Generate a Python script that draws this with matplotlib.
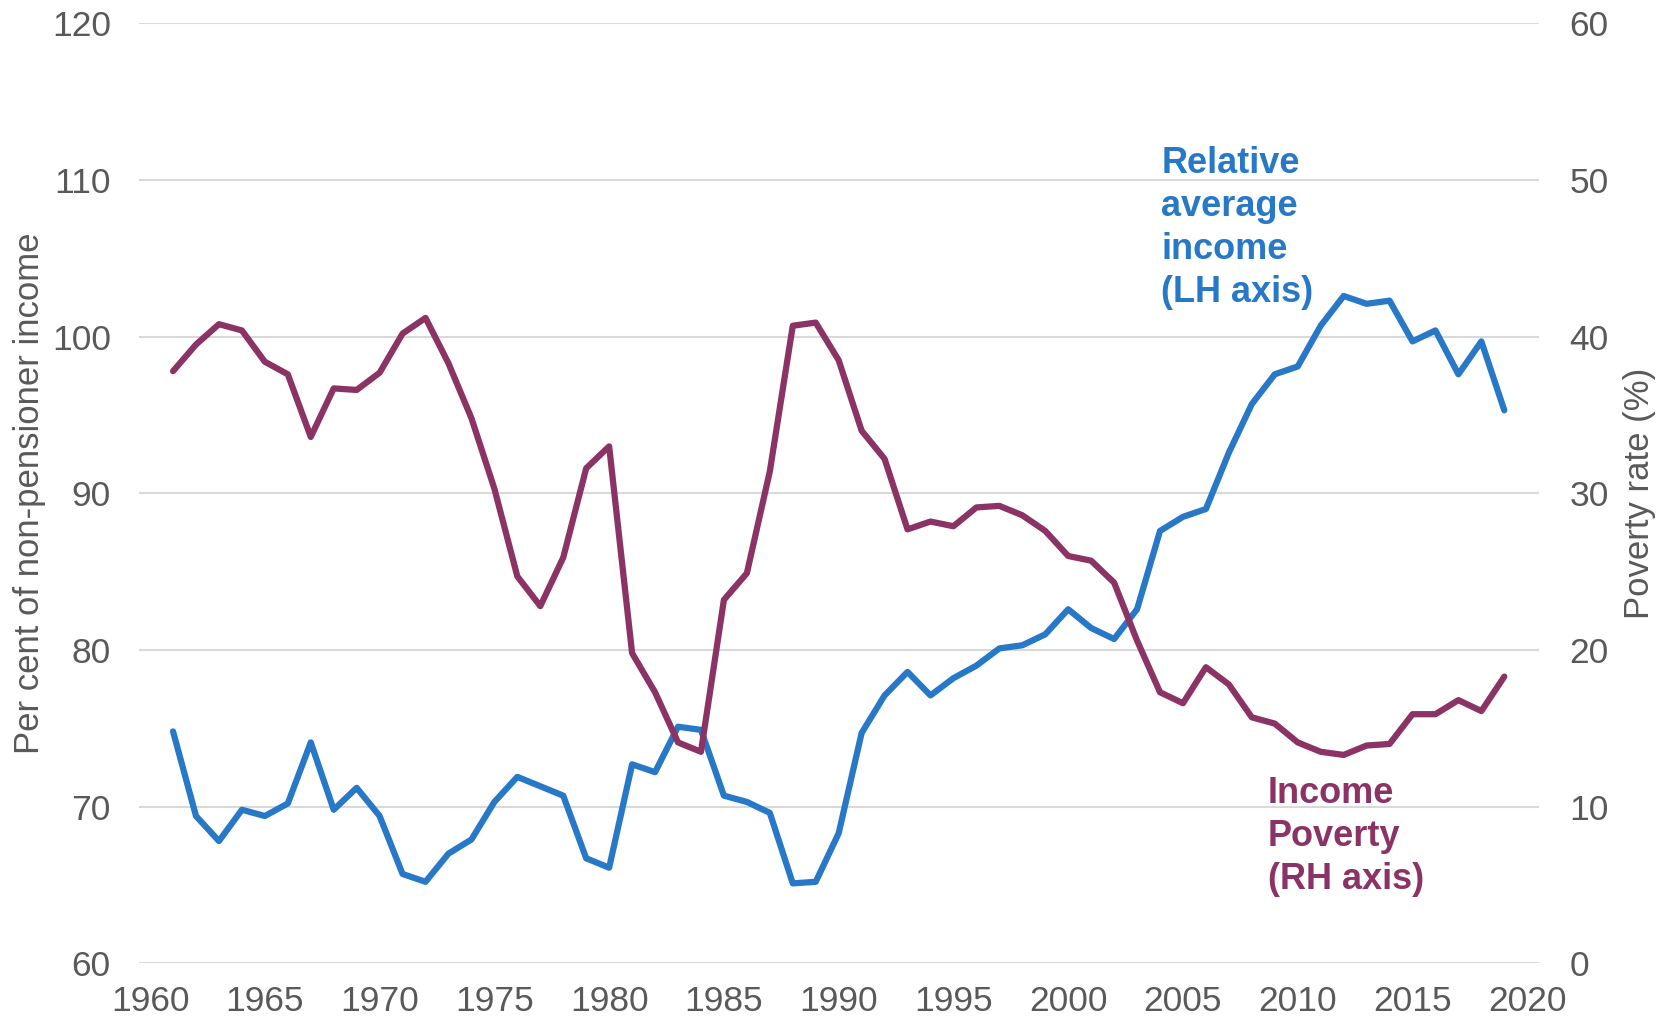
import matplotlib.pyplot as plt

plt.rcParams['font.family'] = ['Liberation Sans', 'DejaVu Sans']

# data
years = list(range(1961, 2020))

# relative average income, per cent of non-pensioner income (LH axis)
rel_income = [74.8, 69.4, 67.8, 69.8, 69.4, 70.2, 74.1, 69.8, 71.2, 69.4,
              65.7, 65.2, 67.0, 67.9, 70.3, 71.9, 71.3, 70.7, 66.7, 66.1,
              72.7, 72.2, 75.1, 74.9, 70.7, 70.3, 69.6, 65.1, 65.2, 68.3,
              74.7, 77.1, 78.6, 77.1, 78.2, 79.0, 80.1, 80.3, 81.0, 82.6,
              81.4, 80.7, 82.6, 87.6, 88.5, 89.0, 92.6, 95.7, 97.6, 98.1,
              100.7, 102.6, 102.1, 102.3, 99.7, 100.4, 97.6, 99.7, 95.3]

# income poverty rate, % (RH axis)
poverty = [37.8, 39.5, 40.8, 40.4, 38.4, 37.6, 33.6, 36.7, 36.6, 37.7,
           40.2, 41.2, 38.3, 34.8, 30.3, 24.7, 22.8, 25.9, 31.6, 33.0,
           19.8, 17.3, 14.1, 13.5, 23.2, 24.9, 31.4, 40.7, 40.9, 38.5,
           34.0, 32.2, 27.7, 28.2, 27.9, 29.1, 29.2, 28.6, 27.6, 26.0,
           25.7, 24.3, 20.6, 17.3, 16.6, 18.9, 17.8, 15.7, 15.3, 14.1,
           13.5, 13.3, 13.9, 14.0, 15.9, 15.9, 16.8, 16.1, 18.3]

left_ticks = [60, 70, 80, 90, 100, 110, 120]
right_ticks = [0, 10, 20, 30, 40, 50, 60]
x_ticks = list(range(1960, 2021, 5))

blue = '#2878C8'
purple = '#8C3366'
grey = '#595959'

fig = plt.figure(figsize=(16.72, 10.23), dpi=100)
ax = fig.add_axes([0.0829, 0.0584, 0.8374, 0.9187])
ax2 = ax.twinx()

ax.set_ylim(60, 120)
ax.set_yticks(left_ticks)
ax2.set_ylim(0, 60)
ax2.set_yticks(right_ticks)
ax.set_xlim(1959.5, 2020.5)
ax.set_xticks(x_ticks)

ax.grid(axis='y', color='#D9D9D9', linewidth=1.5)
ax.set_axisbelow(True)

ax.plot(years, rel_income, color=blue, linewidth=4.5, solid_joinstyle='round',
        solid_capstyle='round', zorder=3)
ax2.plot(years, poverty, color=purple, linewidth=4.5, solid_joinstyle='round',
         solid_capstyle='round', zorder=3)

for a in (ax, ax2):
    for s in a.spines.values():
        s.set_visible(False)
    a.tick_params(length=0, labelsize=25.5, labelcolor=grey)
ax.tick_params(axis='y', pad=20)
ax2.tick_params(axis='y', pad=22)
ax.tick_params(axis='x', pad=16)

ax.set_ylabel('Per cent of non-pensioner income', fontsize=25,
              family=['Liberation Sans Narrow', 'Liberation Sans'], color=grey, labelpad=4)
ax2.set_ylabel('Poverty rate (%)', fontsize=25, color=grey, labelpad=10)

ax.text(0.7304, 0.7826, 'Relative\naverage\nincome\n(LH axis)', transform=ax.transAxes,
        color=blue, fontsize=26, fontweight='bold', ha='left', va='center',
        linespacing=1.3)
ax.text(0.8066, 0.135, 'Income\nPoverty\n(RH axis)', transform=ax.transAxes,
        color=purple, fontsize=26, fontweight='bold', ha='left', va='center',
        linespacing=1.3)

plt.savefig('out.png', dpi=100)
